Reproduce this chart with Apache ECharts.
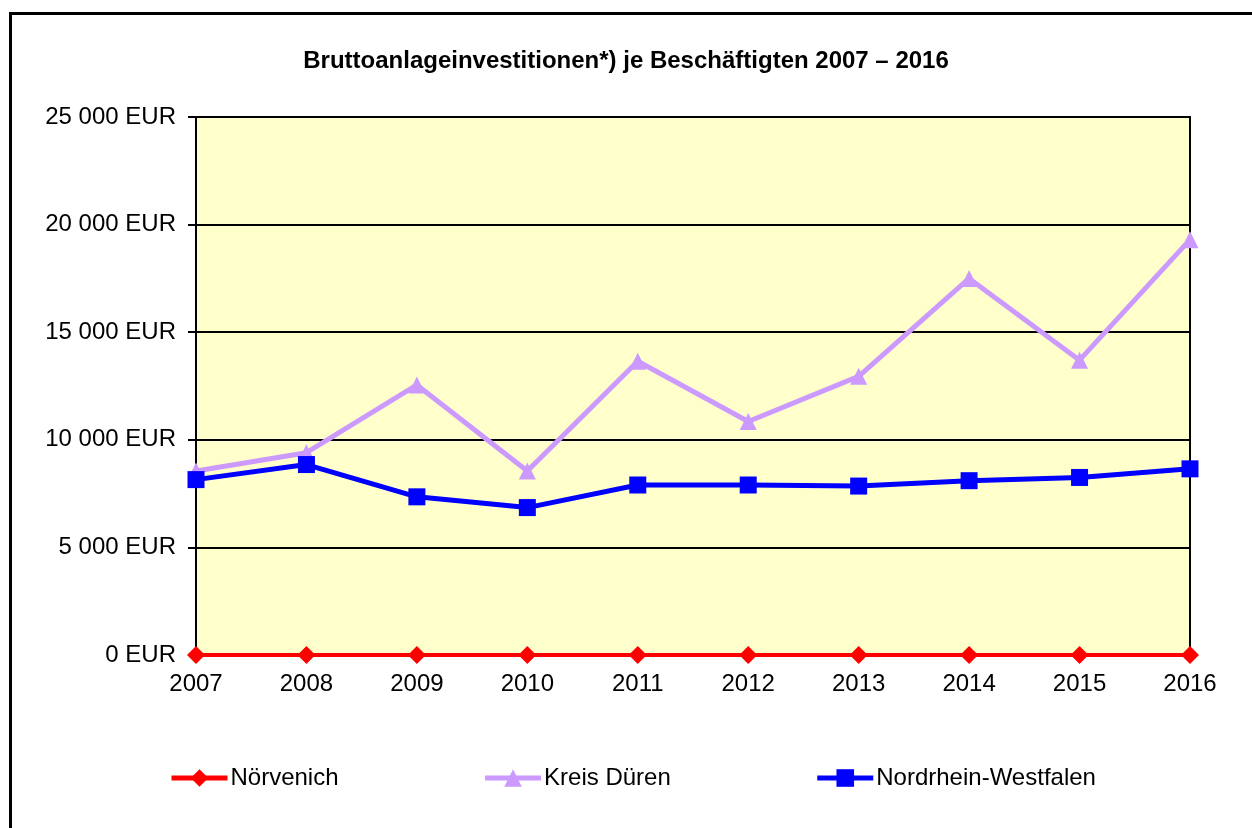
<!DOCTYPE html>
<html>
<head>
<meta charset="utf-8">
<script src="https://cdn.jsdelivr.net/npm/echarts@6/dist/echarts.min.js"></script>
<style>
  html, body { margin: 0; padding: 0; background: #fff; }
  #chart { width: 1252px; height: 828px; }
</style>
</head>
<body>
<div id="chart"></div>
<script>
// Jahre
var years = ['2007', '2008', '2009', '2010', '2011', '2012', '2013', '2014', '2015', '2016'];
// Bruttoanlageinvestitionen je Beschäftigten in EUR
var noervenich = [0, 0, 0, 0, 0, 0, 0, 0, 0, 0];
var kreisDueren = [8550, 9400, 12550, 8550, 13650, 10850, 12950, 17500, 13700, 19300];
var nrw = [8150, 8850, 7350, 6850, 7900, 7900, 7850, 8100, 8250, 8650];

var chart = echarts.init(document.getElementById('chart'));

var option = {
    animation: false,
    textStyle: { fontFamily: 'Liberation Sans, Arial, sans-serif' },
    title: {
        text: 'Bruttoanlageinvestitionen*) je Beschäftigten 2007 – 2016',
        left: 'center',
        top: 44,
        textStyle: { fontSize: 24, fontWeight: 'bold', color: '#000', fontFamily: 'Liberation Sans, Arial, sans-serif' }
    },
    graphic: [{
        type: 'rect',
        shape: { x: 10.5, y: 13.5, width: 1300, height: 900 },
        style: { fill: 'none', stroke: '#000', lineWidth: 3 },
        silent: true
    }],
    legend: {
        bottom: 33,
        left: 164,
        itemGap: 144,
        itemWidth: 56,
        itemHeight: 22,
        lineStyle: { width: 5 },
        textStyle: { fontSize: 24, color: '#000', padding: [0, 0, 0, -2] },
        data: ['Nörvenich', 'Kreis Düren', 'Nordrhein-Westfalen']
    },
    grid: {
        left: 196,
        right: 62,
        top: 117,
        bottom: 173,
        show: true,
        backgroundColor: '#FFFFCC',
        borderColor: '#000',
        borderWidth: 2
    },
    xAxis: {
        type: 'category',
        data: years,
        boundaryGap: false,
        axisLine: { show: true, lineStyle: { color: '#000', width: 2 } },
        axisTick: { show: false },
        axisLabel: { fontSize: 24, color: '#000', margin: 17 }
    },
    yAxis: {
        type: 'value',
        min: 0,
        max: 25000,
        interval: 5000,
        axisLine: { show: true, lineStyle: { color: '#000', width: 2 } },
        axisTick: { show: true, length: 8, lineStyle: { color: '#000', width: 2 } },
        splitLine: { show: true, lineStyle: { color: '#000', width: 2 } },
        axisLabel: {
            fontSize: 24,
            color: '#000',
            margin: 20,
            formatter: function (v) {
                return String(v).replace(/\B(?=(\d{3})+(?!\d))/g, ' ') + ' EUR';
            }
        }
    },
    series: [
        {
            name: 'Kreis Düren',
            type: 'line',
            data: kreisDueren,
            symbol: 'triangle',
            symbolSize: 17,
            lineStyle: { color: '#CC99FF', width: 5 },
            itemStyle: { color: '#CC99FF' },
            z: 3
        },
        {
            name: 'Nordrhein-Westfalen',
            type: 'line',
            data: nrw,
            symbol: 'rect',
            symbolSize: 17,
            lineStyle: { color: '#0000FF', width: 5 },
            itemStyle: { color: '#0000FF' },
            z: 4
        },
        {
            name: 'Nörvenich',
            type: 'line',
            data: noervenich,
            symbol: 'diamond',
            symbolSize: 18,
            lineStyle: { color: '#FF0000', width: 4 },
            itemStyle: { color: '#FF0000' },
            z: 5
        }
    ]
};

chart.setOption(option);
</script>
</body>
</html>
